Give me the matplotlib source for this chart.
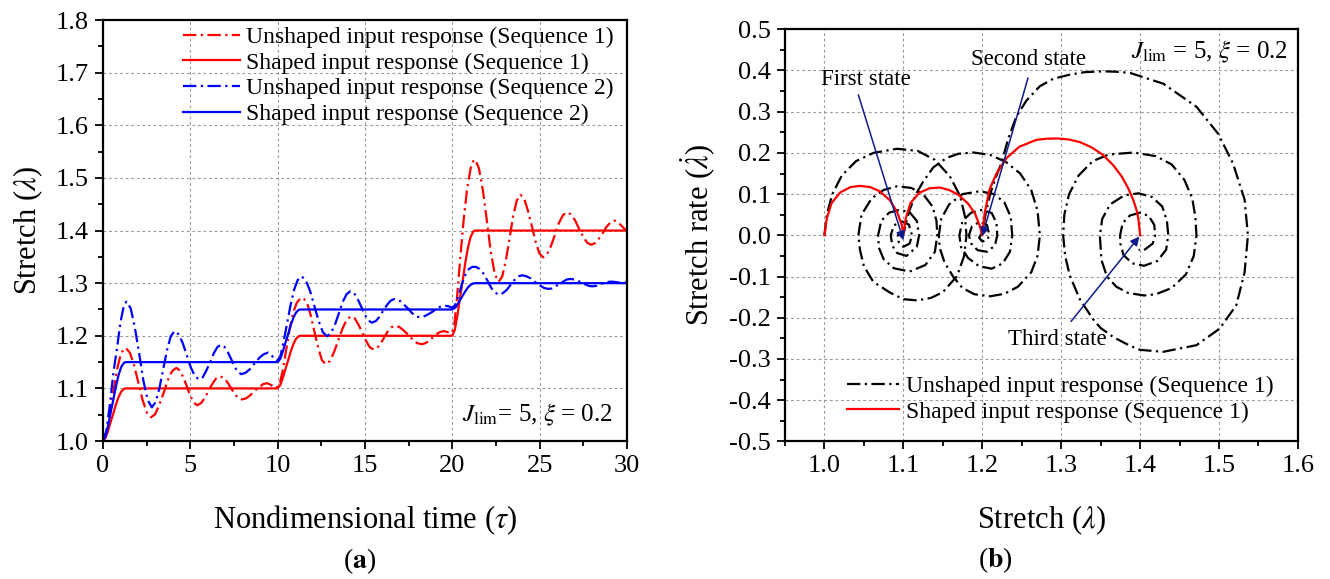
import numpy as np
import matplotlib
matplotlib.use("Agg")
import matplotlib.pyplot as plt
from matplotlib.ticker import MultipleLocator, FormatStrFormatter

# ---------------- data ----------------
# (a) stretch vs nondimensional time, (tau, lambda)
unshaped_seq1 = [
    (0, 1.0), (0.2, 1.015), (0.4, 1.05), (0.6, 1.095), (0.8, 1.135), (1.0, 1.162), (1.15, 1.173), (1.3, 1.177),
    (1.54, 1.168), (1.78, 1.144), (2.03, 1.111), (2.27, 1.078), (2.51, 1.054), (2.75, 1.045),
    (2.99, 1.051), (3.23, 1.069), (3.48, 1.092), (3.72, 1.116), (3.96, 1.133), (4.2, 1.139),
    (4.4, 1.134), (4.6, 1.121), (4.8, 1.104), (5.0, 1.086), (5.2, 1.073), (5.4, 1.068),
    (5.62, 1.072), (5.83, 1.082), (6.05, 1.096), (6.27, 1.109), (6.48, 1.119), (6.7, 1.123),
    (6.91, 1.120), (7.12, 1.112), (7.33, 1.101), (7.53, 1.090), (7.74, 1.082), (7.95, 1.079),
    (8.19, 1.081), (8.43, 1.087), (8.68, 1.095), (8.92, 1.102), (9.16, 1.108), (9.4, 1.110),
    (9.65, 1.106), (9.9, 1.101),
    (10.1, 1.106), (10.3, 1.135), (10.5, 1.175), (10.7, 1.215), (10.9, 1.245), (11.1, 1.263), (11.3, 1.271), (11.45, 1.272),
    (11.67, 1.264), (11.88, 1.241), (12.1, 1.209), (12.32, 1.178), (12.53, 1.154), (12.75, 1.146),
    (12.99, 1.152), (13.23, 1.169), (13.48, 1.192), (13.72, 1.214), (13.96, 1.231), (14.2, 1.237),
    (14.42, 1.233), (14.63, 1.221), (14.85, 1.206), (15.07, 1.190), (15.28, 1.178), (15.5, 1.174),
    (15.7, 1.177), (15.9, 1.185), (16.1, 1.197), (16.3, 1.208), (16.5, 1.216), (16.7, 1.219),
    (16.96, 1.217), (17.22, 1.210), (17.48, 1.202), (17.73, 1.193), (17.99, 1.186), (18.25, 1.184),
    (18.46, 1.186), (18.67, 1.190), (18.88, 1.197), (19.08, 1.203), (19.29, 1.207), (19.5, 1.209),
    (19.73, 1.207), (19.95, 1.205),
    (20.1, 1.215), (20.25, 1.265), (20.45, 1.345), (20.65, 1.42), (20.85, 1.48), (21.05, 1.518), (21.2, 1.532), (21.3, 1.535),
    (21.52, 1.519), (21.75, 1.477), (21.98, 1.419), (22.2, 1.360), (22.43, 1.318), (22.65, 1.302),
    (22.86, 1.313), (23.07, 1.344), (23.28, 1.385), (23.48, 1.427), (23.69, 1.457), (23.9, 1.468),
    (24.12, 1.460), (24.33, 1.438), (24.55, 1.409), (24.77, 1.379), (24.98, 1.357), (25.2, 1.349),
    (25.42, 1.355), (25.65, 1.371), (25.88, 1.392), (26.1, 1.414), (26.33, 1.429), (26.55, 1.435),
    (26.78, 1.431), (27.02, 1.420), (27.25, 1.404), (27.48, 1.389), (27.72, 1.377), (27.95, 1.373),
    (28.17, 1.376), (28.4, 1.385), (28.63, 1.396), (28.85, 1.408), (29.08, 1.416), (29.3, 1.419),
    (29.55, 1.414), (29.8, 1.405), (30.0, 1.4),
]

unshaped_seq2 = [
    (0, 1.0), (0.2, 1.02), (0.4, 1.07), (0.6, 1.13), (0.8, 1.175), (1.0, 1.225), (1.2, 1.258), (1.35, 1.265),
    (1.59, 1.252), (1.83, 1.215), (2.08, 1.165), (2.32, 1.114), (2.56, 1.078), (2.8, 1.064),
    (3.02, 1.074), (3.23, 1.100), (3.45, 1.137), (3.67, 1.173), (3.88, 1.199), (4.1, 1.209),
    (4.33, 1.203), (4.57, 1.186), (4.8, 1.163), (5.03, 1.140), (5.27, 1.123), (5.5, 1.117),
    (5.71, 1.121), (5.92, 1.134), (6.14, 1.150), (6.35, 1.167), (6.56, 1.179), (6.77, 1.183),
    (6.96, 1.179), (7.15, 1.169), (7.35, 1.155), (7.54, 1.141), (7.73, 1.131), (7.92, 1.127),
    (8.18, 1.130), (8.43, 1.137), (8.69, 1.148), (8.95, 1.158), (9.2, 1.165), (9.46, 1.168),
    (9.7, 1.161), (9.95, 1.152),
    (10.15, 1.16), (10.35, 1.19), (10.55, 1.225), (10.75, 1.26), (10.95, 1.288), (11.15, 1.306), (11.38, 1.313),
    (11.62, 1.305), (11.86, 1.285), (12.11, 1.256), (12.35, 1.228), (12.59, 1.207), (12.83, 1.199),
    (13.05, 1.205), (13.28, 1.221), (13.5, 1.242), (13.72, 1.264), (13.95, 1.279), (14.17, 1.285),
    (14.38, 1.281), (14.58, 1.270), (14.79, 1.255), (14.99, 1.240), (15.2, 1.229), (15.4, 1.225),
    (15.62, 1.228), (15.83, 1.236), (16.05, 1.248), (16.27, 1.259), (16.48, 1.267), (16.7, 1.270),
    (16.94, 1.268), (17.18, 1.261), (17.43, 1.253), (17.67, 1.244), (17.91, 1.237), (18.15, 1.235),
    (18.39, 1.237), (18.63, 1.241), (18.88, 1.246), (19.12, 1.252), (19.36, 1.256), (19.6, 1.257),
    (19.8, 1.256), (20.0, 1.253),
    (20.15, 1.258), (20.35, 1.275), (20.55, 1.298), (20.75, 1.316), (20.95, 1.327), (21.15, 1.331), (21.35, 1.331),
    (21.57, 1.327), (21.79, 1.318), (22.01, 1.305), (22.23, 1.291), (22.45, 1.282), (22.67, 1.278),
    (22.89, 1.281), (23.11, 1.287), (23.34, 1.297), (23.56, 1.306), (23.78, 1.313), (24.0, 1.315),
    (24.25, 1.313), (24.5, 1.309), (24.75, 1.302), (25.0, 1.296), (25.25, 1.291), (25.5, 1.289),
    (25.71, 1.290), (25.92, 1.294), (26.14, 1.299), (26.35, 1.303), (26.56, 1.307), (26.77, 1.308),
    (26.98, 1.307), (27.18, 1.305), (27.39, 1.301), (27.59, 1.298), (27.8, 1.295), (28.0, 1.294),
    (28.28, 1.295), (28.55, 1.299), (28.83, 1.302), (29.1, 1.303), (29.4, 1.302), (29.7, 1.300), (30.0, 1.302),
]

shaped_t = [0, 0.15, 0.3, 0.45, 0.6, 0.75, 0.9, 1.05, 1.2, 1.3,
            10.0, 10.15, 10.3, 10.45, 10.6, 10.75, 10.9, 11.05, 11.2, 11.3,
            20.0, 20.15, 20.3, 20.45, 20.6, 20.75, 20.9, 21.05, 21.2, 21.3, 30.0]
shaped_seq1 = [1.0, 1.006, 1.02, 1.037, 1.053, 1.07, 1.084, 1.094, 1.099, 1.1,
               1.1, 1.106, 1.12, 1.137, 1.153, 1.17, 1.184, 1.194, 1.199, 1.2,
               1.2, 1.212, 1.24, 1.274, 1.306, 1.34, 1.368, 1.388, 1.398, 1.4, 1.4]
shaped_seq2 = [1.0, 1.009, 1.03, 1.0555, 1.0795, 1.105, 1.126, 1.141, 1.1485, 1.15,
               1.15, 1.156, 1.17, 1.187, 1.203, 1.22, 1.234, 1.244, 1.249, 1.25,
               1.25, 1.253, 1.26, 1.2685, 1.2765, 1.285, 1.292, 1.297, 1.2995, 1.3, 1.3]

# (b) phase plane, (lambda, lambda_dot)
phase_unshaped_1 = [
    (1.0, 0), (1.003, 0.05), (1.01, 0.1), (1.022, 0.145), (1.04, 0.18), (1.062, 0.2), (1.092, 0.21),
    (1.118, 0.205), (1.14, 0.183), (1.159, 0.143), (1.172, 0.095), (1.178, 0.046), (1.18, 0),
    (1.177, -0.05), (1.168, -0.099), (1.15, -0.138), (1.135, -0.152), (1.117, -0.158), (1.1, -0.155),
    (1.083, -0.139), (1.062, -0.113), (1.05, -0.075), (1.045, -0.035), (1.043, 0),
    (1.047, 0.05), (1.06, 0.09), (1.075, 0.11), (1.092, 0.119), (1.11, 0.115), (1.125, 0.1),
    (1.137, 0.07), (1.142, 0.035), (1.143, 0),
    (1.14, -0.04), (1.128, -0.072), (1.108, -0.088), (1.088, -0.08), (1.075, -0.058), (1.069, -0.03), (1.068, 0),
    (1.072, 0.035), (1.082, 0.055), (1.095, 0.062), (1.108, 0.056), (1.117, 0.035), (1.12, 0),
    (1.117, -0.028), (1.104, -0.05), (1.092, -0.043), (1.086, -0.025), (1.084, 0),
    (1.088, 0.024), (1.098, 0.034), (1.107, 0.026), (1.111, 0),
    (1.108, -0.02), (1.1, -0.028), (1.094, -0.016), (1.093, 0),
]
phase_unshaped_2 = [
    (1.101, 0.01), (1.104, 0.035), (1.108, 0.062), (1.116, 0.1), (1.125, 0.13), (1.138, 0.165),
    (1.155, 0.188), (1.17, 0.198), (1.189, 0.201), (1.21, 0.195), (1.23, 0.178), (1.248, 0.15),
    (1.262, 0.11), (1.27, 0.06), (1.273, 0),
    (1.27, -0.05), (1.262, -0.09), (1.245, -0.125), (1.228, -0.142), (1.21, -0.148), (1.19, -0.143),
    (1.175, -0.128), (1.163, -0.1), (1.152, -0.065), (1.146, -0.03), (1.145, 0),
    (1.148, 0.04), (1.158, 0.075), (1.175, 0.1), (1.197, 0.107), (1.215, 0.1), (1.228, 0.08),
    (1.236, 0.045), (1.238, 0),
    (1.235, -0.04), (1.226, -0.068), (1.212, -0.081), (1.196, -0.075), (1.182, -0.055), (1.173, -0.028), (1.171, 0),
    (1.175, 0.035), (1.186, 0.055), (1.2, 0.062), (1.212, 0.054), (1.218, 0.03), (1.219, 0),
    (1.216, -0.025), (1.206, -0.04), (1.194, -0.036), (1.186, -0.02), (1.183, 0),
    (1.187, 0.022), (1.197, 0.033), (1.206, 0.025), (1.209, 0),
    (1.206, -0.012), (1.2, -0.015), (1.196, -0.006), (1.199, 0.004),
]
phase_unshaped_3 = [
    (1.2, 0), (1.204, 0.05), (1.21, 0.1), (1.217, 0.14), (1.2242, 0.175), (1.233, 0.235), (1.2432, 0.2886),
    (1.256, 0.327), (1.2729, 0.3618), (1.29, 0.38), (1.311, 0.39), (1.33, 0.396), (1.3534, 0.398),
    (1.37, 0.397), (1.3874, 0.394), (1.4294, 0.368), (1.4714, 0.312), (1.4987, 0.247), (1.5176, 0.175),
    (1.5324, 0.0867), (1.5366, 0),
    (1.5324, -0.09), (1.5218, -0.17), (1.5008, -0.2265), (1.4714, -0.2667), (1.4294, -0.2827),
    (1.4, -0.278), (1.387, -0.268), (1.366, -0.247), (1.35, -0.225), (1.3405, -0.204), (1.3236, -0.155),
    (1.311, -0.098), (1.305, -0.05), (1.3025, 0),
    (1.304, 0.05), (1.31, 0.1), (1.322, 0.145), (1.34, 0.18), (1.36, 0.196), (1.392, 0.201),
    (1.42, 0.192), (1.44, 0.172), (1.456, 0.135), (1.466, 0.09), (1.47, 0.045), (1.4714, 0),
    (1.468, -0.05), (1.458, -0.095), (1.44, -0.128), (1.42, -0.143), (1.405, -0.146), (1.385, -0.14),
    (1.37, -0.125), (1.358, -0.1), (1.351, -0.06), (1.349, 0),
    (1.352, 0.04), (1.362, 0.075), (1.38, 0.097), (1.398, 0.102), (1.415, 0.093), (1.428, 0.07),
    (1.434, 0.035), (1.4357, 0),
    (1.433, -0.035), (1.422, -0.062), (1.405, -0.074), (1.39, -0.068), (1.379, -0.048), (1.375, -0.02), (1.3746, 0),
    (1.378, 0.03), (1.387, 0.048), (1.4, 0.055), (1.411, 0.047), (1.418, 0.025), (1.419, 0),
    (1.416, -0.02), (1.405, -0.036), (1.398, -0.035),
]
phase_shaped = [
    (1.0, 0), (1.003, 0.041), (1.009, 0.078), (1.02, 0.104), (1.033, 0.117), (1.045, 0.12),
    (1.058, 0.117), (1.07, 0.107), (1.083, 0.085), (1.092, 0.057), (1.098, 0.025), (1.1, 0),
    (1.103, 0.041), (1.109, 0.078), (1.12, 0.103), (1.133, 0.114), (1.146, 0.116), (1.158, 0.11),
    (1.17, 0.098), (1.182, 0.077), (1.191, 0.052), (1.197, 0.022), (1.2, 0),
    (1.203, 0.053), (1.209, 0.11), (1.218, 0.15), (1.2305, 0.187), (1.247, 0.215), (1.2686, 0.2317),
    (1.282, 0.2345), (1.296, 0.235), (1.31, 0.2325), (1.324, 0.226), (1.339, 0.213), (1.353, 0.195),
    (1.366, 0.17), (1.377, 0.142), (1.3855, 0.112), (1.3915, 0.085), (1.396, 0.058), (1.398, 0.037), (1.4, 0),
]

# annotation arrows: (label, text position, arrow tail, arrow head)
states = [
    ("First state", (1.052, 0.377), (1.043, 0.341), (1.1, -0.012)),
    ("Second state", (1.258, 0.427), (1.258, 0.382), (1.2, -0.002)),
    ("Third state", (1.295, -0.252), (1.3125, -0.209), (1.399, -0.003)),
]

# ---------------- style ----------------
plt.rcParams['font.family'] = ['Liberation Serif', 'DejaVu Serif']
plt.rcParams['mathtext.fontset'] = 'stix'
plt.rcParams['axes.unicode_minus'] = False

RED = '#ff0000'
BLUE = '#0000ff'
NAVY = '#0d1a8c'
DASHDOT = (6, 2, 1, 2)
LW = 1.6


def style_axes(ax):
    for sp in ax.spines.values():
        sp.set_linewidth(1.6)
    ax.tick_params(which='both', direction='out', width=1.3, labelsize=19, pad=4,
                   top=False, right=False)
    ax.tick_params(which='major', length=6)
    ax.tick_params(which='minor', length=3.5)
    ax.grid(True, which='major', color='#9a9a9a', linestyle=(0, (2.5, 2.5)), linewidth=0.8)
    ax.set_axisbelow(True)


fig = plt.figure(figsize=(13.3, 5.79), dpi=100)
ax1 = fig.add_axes([0.0774, 0.2383, 0.394, 0.727])
ax2 = fig.add_axes([0.5902, 0.2378, 0.3857, 0.7116])

# ---------------- (a) ----------------
t1, l1 = np.array(unshaped_seq1).T
t2, l2 = np.array(unshaped_seq2).T
ax1.plot(t1, l1, color=RED, lw=LW, dashes=DASHDOT, label='Unshaped input response (Sequence 1)')
ax1.plot(shaped_t, shaped_seq1, color=RED, lw=LW, label='Shaped input response (Sequence 1)')
ax1.plot(t2, l2, color=BLUE, lw=LW, dashes=DASHDOT, label='Unshaped input response (Sequence 2)')
ax1.plot(shaped_t, shaped_seq2, color=BLUE, lw=LW, label='Shaped input response (Sequence 2)')

ax1.set_xlim(0, 30)
ax1.set_ylim(1.0, 1.8)
ax1.xaxis.set_major_locator(MultipleLocator(5))
ax1.xaxis.set_minor_locator(MultipleLocator(2.5))
ax1.yaxis.set_major_locator(MultipleLocator(0.1))
ax1.yaxis.set_minor_locator(MultipleLocator(0.05))
ax1.yaxis.set_major_formatter(FormatStrFormatter('%.1f'))
style_axes(ax1)
ax1.set_xlabel(r'Nondimensional time ($\tau$)', fontsize=22, labelpad=19)
ax1.set_ylabel(r'Stretch ($\lambda$)', fontsize=22, labelpad=8)
ax1.text(29.2, 1.049, r'$J_{\rm lim}$= 5, $\xi$ = 0.2', fontsize=18, ha='right', va='center')
ax1.legend(loc='upper left', bbox_to_anchor=(0.152, 0.985), frameon=False, fontsize=17,
           handlelength=2.45, handletextpad=0.25, labelspacing=0.18, borderpad=0, borderaxespad=0)

# ---------------- (b) ----------------
ux = np.concatenate([np.array(phase_unshaped_1)[:, 0], np.array(phase_unshaped_2)[:, 0],
                     np.array(phase_unshaped_3)[:, 0]])
uy = np.concatenate([np.array(phase_unshaped_1)[:, 1], np.array(phase_unshaped_2)[:, 1],
                     np.array(phase_unshaped_3)[:, 1]])
sx, sy = np.array(phase_shaped).T
ax2.plot(ux, uy, color='black', lw=LW, dashes=DASHDOT, label='Unshaped input response (Sequence 1)')
ax2.plot(sx, sy, color=RED, lw=LW, label='Shaped input response (Sequence 1)', zorder=3)

for label, txt, tail, head in states:
    ax2.annotate('', xy=head, xytext=tail,
                 arrowprops=dict(arrowstyle='-|>', color=NAVY, lw=1.1, mutation_scale=13,
                                 shrinkA=0, shrinkB=0), zorder=4)
    ax2.text(txt[0], txt[1], label, fontsize=16.5, ha='center', va='center')

ax2.set_xlim(0.95, 1.6)
ax2.set_ylim(-0.5, 0.5)
ax2.xaxis.set_major_locator(MultipleLocator(0.1))
ax2.xaxis.set_minor_locator(MultipleLocator(0.05))
ax2.yaxis.set_major_locator(MultipleLocator(0.1))
ax2.yaxis.set_minor_locator(MultipleLocator(0.05))
ax2.xaxis.set_major_formatter(FormatStrFormatter('%.1f'))
ax2.yaxis.set_major_formatter(FormatStrFormatter('%.1f'))
style_axes(ax2)
ax2.set_xlabel(r'Stretch ($\lambda$)', fontsize=22, labelpad=19)
ax2.set_ylabel(r'Stretch rate ($\dot{\lambda}$)', fontsize=22, labelpad=8)
ax2.text(1.587, 0.446, r'$J_{\rm lim}$ = 5, $\xi$ = 0.2', fontsize=18, ha='right', va='center')
ax2.legend(loc='upper left', bbox_to_anchor=(0.121, 0.16), frameon=False, fontsize=17,
           handlelength=2.2, handletextpad=0.3, labelspacing=0.18, borderpad=0, borderaxespad=0)

fig.text(360 / 1330, 1 - 561 / 579, r'($\mathbf{a}$)', fontsize=20, ha='center', va='center')
fig.text(995 / 1330, 1 - 560 / 579, r'($\mathbf{b}$)', fontsize=20, ha='center', va='center')

fig.savefig('out.png', dpi=100)
